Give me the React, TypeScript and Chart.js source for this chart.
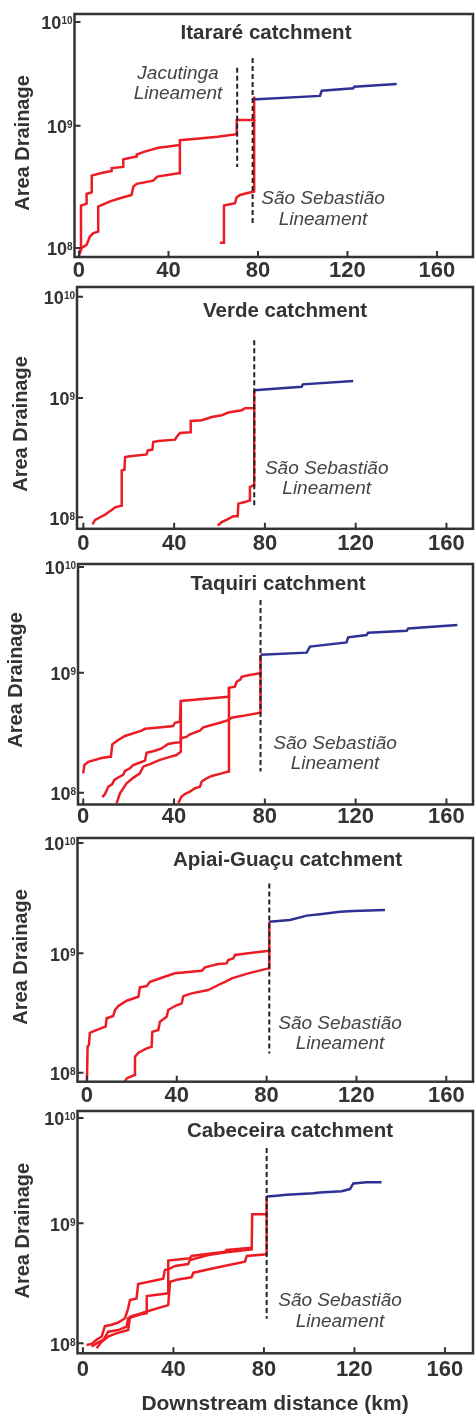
import React, { useEffect, useRef } from "react";
import { Chart, registerables } from "chart.js";

Chart.register(...registerables);

const FONT = "'Liberation Sans', Arial, Helvetica, sans-serif";
const RED = "#ec1c24";
const BLUE = "#2e3192";
const INK = "#333333";
const NOTE_INK = "#444444";
const DASH = "#222222";

// ---- shared axis ticks ----
const xTickValues = [0, 40, 80, 120, 160];
const yTickExponents = [8, 9, 10];

// ---- Itararé catchment ----
const itarareUpperKm = [0, 0.9, 0.9, 3.4, 3.4, 5.7, 5.7, 10.0, 14.6, 14.6, 19.8, 19.8, 25.8, 25.8, 29.0, 31.7, 35.5, 40.0, 45.1, 45.1, 55.0, 62.0, 70.5, 70.5, 78.3, 78.3];
const itarareUpperArea = [9.0e7, 1.0e8, 2.22e8, 2.3e8, 2.76e8, 2.85e8, 3.9e8, 4.1e8, 4.25e8, 4.5e8, 4.6e8, 5.3e8, 5.6e8, 5.8e8, 6.1e8, 6.3e8, 6.6e8, 6.75e8, 6.95e8, 7.6e8, 7.9e8, 8.1e8, 8.5e8, 1.11e9, 1.11e9, 1.73e9];
const itarareLowerKm = [0, 1.2, 3.4, 4.9, 6.4, 8.6, 8.6, 13.9, 18.3, 23.5, 24.3, 25.8, 33.2, 35.0, 44.4, 45.1, 45.1];
const itarareLowerArea = [8.6e7, 1.0e8, 1.06e8, 1.24e8, 1.32e8, 1.36e8, 2.18e8, 2.4e8, 2.55e8, 2.71e8, 3.17e8, 3.34e8, 3.55e8, 3.83e8, 4.08e8, 4.08e8, 6.95e8];
const itarareEastKm = [63.0, 64.8, 64.8, 69.7, 70.5, 72.0, 74.9, 78.3, 78.3];
const itarareEastArea = [1.1e8, 1.1e8, 2.22e8, 2.32e8, 2.6e8, 2.71e8, 2.8e8, 2.89e8, 1.11e9];
const itarareTrunkKm = [78.3, 79.4, 107.7, 108.5, 122.6, 123.0, 142.0];
const itarareTrunkArea = [1.64e9, 1.64e9, 1.75e9, 1.93e9, 2.02e9, 2.08e9, 2.19e9];
const itarareLineamentKm = [70.7, 77.6];
const itarareLineamentTop = [2.97e9, 3.58e9];
const itarareLineamentBottom = [4.59e8, 1.6e8];
const itarareYTicks = [1e8, 1e9, 7.05e9];

// ---- Verde catchment ----
const verdeMainKm = [4.0, 5.2, 7.4, 9.6, 11.0, 12.5, 14.0, 16.6, 16.9, 18.1, 18.4, 20.6, 27.9, 28.4, 30.4, 30.8, 33.0, 40.4, 41.1, 42.6, 47.0, 47.3, 52.2, 56.6, 61.0, 63.9, 69.8, 71.2, 74.9, 75.3, 75.3];
const verdeMainArea = [8.7e7, 9.5e7, 1.0e8, 1.05e8, 1.10e8, 1.15e8, 1.21e8, 1.25e8, 2.47e8, 2.5e8, 3.19e8, 3.24e8, 3.36e8, 3.63e8, 3.68e8, 4.27e8, 4.35e8, 4.47e8, 4.7e8, 5.08e8, 5.15e8, 6.41e8, 6.5e8, 6.92e8, 7.16e8, 7.54e8, 7.89e8, 8.19e8, 8.24e8, 8.24e8, 1.16e9];
const verdeEastKm = [59.2, 61.0, 63.9, 66.1, 68.0, 68.3, 71.2, 73.1, 73.4, 74.9, 75.3, 75.3];
const verdeEastArea = [8.5e7, 9.1e7, 9.7e7, 1.02e8, 1.02e8, 1.30e8, 1.34e8, 1.38e8, 1.79e8, 1.85e8, 1.85e8, 8.24e8];
const verdeTrunkKm = [75.3, 96.2, 96.7, 118.9];
const verdeTrunkArea = [1.16e9, 1.24e9, 1.30e9, 1.39e9];
const verdeLineamentKm = [75.3];
const verdeLineamentTop = [3.05e9];
const verdeLineamentBottom = [1.25e8];
const verdeYTicks = [1e8, 1e9, 7.06e9];

// ---- Taquiri catchment ----
const taquiriUpperKm = [0, 0.5, 2.2, 8.1, 12.2, 12.8, 15.4, 18.4, 25.7, 27.2, 34.5, 39.6, 40.4, 42.6, 43.0, 63.9, 64.2, 66.8, 67.6, 69.3, 69.8, 72.7, 77.8, 78.1, 78.1];
const taquiriUpperArea = [1.45e8, 1.7e8, 1.81e8, 1.95e8, 2.0e8, 2.53e8, 2.75e8, 2.97e8, 3.29e8, 3.41e8, 3.51e8, 3.59e8, 3.83e8, 3.91e8, 5.81e8, 6.31e8, 7.5e8, 7.65e8, 8.41e8, 8.81e8, 9.26e8, 9.51e8, 9.89e8, 9.89e8, 1.41e9];
const taquiriMidKm = [8.4, 9.6, 11.0, 12.8, 13.7, 15.4, 17.6, 18.4, 20.6, 22.0, 24.2, 27.2, 27.9, 31.6, 34.5, 37.4, 40.4, 43.0, 43.0, 45.6, 47.0, 51.4, 52.9, 56.6, 60.2, 63.9, 65.4, 69.8, 77.8, 78.1, 78.1];
const taquiriMidArea = [9.2e7, 9.75e7, 1.12e8, 1.18e8, 1.28e8, 1.34e8, 1.41e8, 1.52e8, 1.60e8, 1.70e8, 1.76e8, 1.85e8, 2.15e8, 2.24e8, 2.34e8, 2.55e8, 2.61e8, 2.64e8, 2.84e8, 2.93e8, 3.07e8, 3.29e8, 3.51e8, 3.67e8, 3.83e8, 4.03e8, 4.22e8, 4.35e8, 4.64e8, 4.64e8, 9.89e8];
const taquiriLowKm = [14.7, 16.2, 19.1, 22.0, 25.0, 26.4, 29.4, 33.8, 38.2, 41.1, 43.0, 43.0];
const taquiriLowArea = [8.2e7, 9.9e7, 1.2e8, 1.33e8, 1.45e8, 1.65e8, 1.73e8, 1.88e8, 1.99e8, 2.06e8, 2.2e8, 5.81e8];
const taquiriEastKm = [41.9, 43.3, 44.8, 47.0, 49.2, 51.4, 52.2, 54.4, 56.6, 61.0, 63.9, 64.2, 64.2];
const taquiriEastArea = [8.2e7, 9.3e7, 9.75e7, 1.02e8, 1.09e8, 1.12e8, 1.24e8, 1.32e8, 1.38e8, 1.45e8, 1.5e8, 1.5e8, 7.5e8];
const taquiriTrunkKm = [78.1, 98.4, 99.9, 116.0, 116.7, 124.8, 125.5, 142.5, 143.2, 164.8];
const taquiriTrunkArea = [1.41e9, 1.47e9, 1.65e9, 1.79e9, 1.97e9, 2.06e9, 2.15e9, 2.24e9, 2.34e9, 2.5e9];
const taquiriLineamentKm = [78.1];
const taquiriLineamentTop = [4.04e9];
const taquiriLineamentBottom = [1.5e8];
const taquiriYTicks = [1e8, 1e9, 7.6e9];

// ---- Apiai-Guaçu catchment ----
const apiaiUpperKm = [0, 0.3, 0.9, 1.3, 3.6, 6.5, 8.3, 8.8, 11.7, 12.5, 14.0, 17.7, 22.9, 23.6, 26.6, 28.1, 33.3, 39.2, 51.1, 52.6, 58.5, 62.2, 62.9, 65.2, 65.9, 71.8, 81.1, 81.2];
const apiaiUpperArea = [8.4e7, 1.65e8, 1.71e8, 2.16e8, 2.25e8, 2.36e8, 2.43e8, 2.86e8, 2.99e8, 3.35e8, 3.62e8, 4.01e8, 4.33e8, 5.19e8, 5.32e8, 5.78e8, 6.25e8, 6.8e8, 7.15e8, 7.64e8, 8.13e8, 8.24e8, 8.79e8, 9.08e8, 9.68e8, 1.0e9, 1.05e9, 1.84e9];
const apiaiLowerKm = [16.9, 17.7, 21.1, 21.4, 22.9, 26.6, 28.8, 29.1, 31.8, 32.5, 35.5, 36.2, 39.2, 42.2, 42.9, 46.6, 54.0, 58.5, 61.5, 64.5, 71.8, 80.8, 81.2, 81.2];
const apiaiLowerArea = [8.4e7, 8.97e7, 9.57e7, 1.36e8, 1.47e8, 1.60e8, 1.65e8, 2.2e8, 2.28e8, 2.68e8, 2.94e8, 3.35e8, 3.62e8, 3.81e8, 4.38e8, 4.62e8, 4.93e8, 5.43e8, 5.78e8, 6.18e8, 6.8e8, 7.48e8, 7.48e8, 1.05e9];
const apiaiTrunkKm = [81.2, 90.4, 97.9, 103.8, 112.7, 118.6, 132.7];
const apiaiTrunkArea = [1.84e9, 1.90e9, 2.07e9, 2.13e9, 2.23e9, 2.26e9, 2.31e9];
const apiaiLineamentKm = [81.2];
const apiaiLineamentTop = [3.85e9];
const apiaiLineamentBottom = [1.45e8];
const apiaiYTicks = [1e8, 1e9, 8.41e9];

// ---- Cabeceira catchment ----
const cabeceiraAKm = [1.6, 3.8, 6.0, 8.3, 9.7, 12.7, 15.6, 18.6, 20.0, 20.8, 23.7, 24.4, 35.5, 36.2, 38.0, 40.7, 46.5, 47.3, 55.4, 63.5, 74.6, 74.8, 81.2, 81.2];
const cabeceiraAArea = [9.7e7, 9.9e7, 1.07e8, 1.14e8, 1.39e8, 1.43e8, 1.49e8, 1.62e8, 1.96e8, 2.30e8, 2.37e8, 3.12e8, 3.46e8, 4.08e8, 4.16e8, 4.41e8, 4.58e8, 4.95e8, 5.45e8, 5.73e8, 6.07e8, 1.19e9, 1.19e9, 1.67e9];
const cabeceiraBKm = [3.8, 6.0, 9.0, 11.2, 15.6, 19.3, 20.0, 25.9, 28.2, 28.2, 37.7, 37.7, 47.3, 48.0, 62.8, 63.5, 74.6];
const cabeceiraBArea = [9.4e7, 1.0e8, 1.07e8, 1.25e8, 1.29e8, 1.38e8, 1.62e8, 1.75e8, 1.78e8, 2.48e8, 2.61e8, 4.89e8, 5.11e8, 5.34e8, 5.81e8, 6.0e8, 6.27e8];
const cabeceiraCKm = [6.0, 8.3, 11.2, 14.1, 20.0, 20.8, 25.9, 28.2, 37.7, 38.5, 42.1, 48.0, 48.8, 59.8, 71.6, 72.4, 81.2, 81.2];
const cabeceiraCArea = [9.1e7, 1.03e8, 1.14e8, 1.20e8, 1.29e8, 1.67e8, 1.78e8, 1.84e8, 2.08e8, 3.26e8, 3.41e8, 3.55e8, 3.88e8, 4.30e8, 4.79e8, 5.34e8, 5.52e8, 1.19e9];
const cabeceiraTrunkKm = [81.2, 85.6, 90.0, 101.8, 104.8, 114.3, 118.0, 119.5, 125.4, 132.0];
const cabeceiraTrunkArea = [1.67e9, 1.70e9, 1.73e9, 1.78e9, 1.81e9, 1.85e9, 1.93e9, 2.15e9, 2.20e9, 2.20e9];
const cabeceiraLineamentKm = [81.2];
const cabeceiraLineamentTop = [4.24e9];
const cabeceiraLineamentBottom = [1.6e8];
const cabeceiraYTicks = [1e8, 1e9, 7.55e9];

// ---- text ----
const yAxisTitle = "Area Drainage";
const xAxisTitle = "Downstream distance (km)";
const ssLabel = ["São Sebastião", "Lineament"];
const jacLabel = ["Jacutinga", "Lineament"];

type Series = { km: number[]; area: number[] };
type Note = { lines: string[]; x: number; ys: number[] };
interface PanelSpec {
  title: string;
  red: Series[];
  trunk: Series;
  linKm: number[];
  linTop: number[];
  linBottom: number[];
  yTicks: number[];
  notes: Note[];
  xRange: [number, number];
  yRange: [number, number];
  top: number;
  height: number;
  areaTop: number;
  areaBottom: number;
  areaLeft: number;
  areaRight: number;
  titlePos: [number, number];
  yTitlePos: [number, number];
  tickPad: number;
  xTitlePos?: [number, number];
}

const panels: PanelSpec[] = [
  {
    title: "Itararé catchment",
    red: [
      { km: itarareUpperKm, area: itarareUpperArea },
      { km: itarareLowerKm, area: itarareLowerArea },
      { km: itarareEastKm, area: itarareEastArea },
    ],
    trunk: { km: itarareTrunkKm, area: itarareTrunkArea },
    linKm: itarareLineamentKm,
    linTop: itarareLineamentTop,
    linBottom: itarareLineamentBottom,
    yTicks: itarareYTicks,
    notes: [
      { lines: jacLabel, x: 178, ys: [72, 92] },
      { lines: ssLabel, x: 323, ys: [197, 218] },
    ],
    xRange: [-2.0, 176.1],
    yRange: [8.43e7, 8.18e9],
    top: 0,
    height: 280,
    areaTop: 14,
    areaBottom: 257,
    areaLeft: 74.5,
    areaRight: 473,
    titlePos: [266, 32],
    yTitlePos: [22, 143],
    tickPad: 1,
  },
  {
    title: "Verde catchment",
    red: [
      { km: verdeMainKm, area: verdeMainArea },
      { km: verdeEastKm, area: verdeEastArea },
    ],
    trunk: { km: verdeTrunkKm, area: verdeTrunkArea },
    linKm: verdeLineamentKm,
    linTop: verdeLineamentTop,
    linBottom: verdeLineamentBottom,
    yTicks: verdeYTicks,
    notes: [{ lines: ssLabel, x: 326.7, ys: [186.7, 206.7] }],
    xRange: [-2.8, 171.7],
    yRange: [8.0e7, 8.51e9],
    top: 280,
    height: 278,
    areaTop: 287,
    areaBottom: 528.8,
    areaLeft: 77,
    areaRight: 473,
    titlePos: [285, 30],
    yTitlePos: [20.3, 144],
    tickPad: 2,
  },
  {
    title: "Taquiri catchment",
    red: [
      { km: taquiriUpperKm, area: taquiriUpperArea },
      { km: taquiriMidKm, area: taquiriMidArea },
      { km: taquiriLowKm, area: taquiriLowArea },
      { km: taquiriEastKm, area: taquiriEastArea },
    ],
    trunk: { km: taquiriTrunkKm, area: taquiriTrunkArea },
    linKm: taquiriLineamentKm,
    linTop: taquiriLineamentTop,
    linBottom: taquiriLineamentBottom,
    yTicks: taquiriYTicks,
    notes: [{ lines: ssLabel, x: 335, ys: [183.7, 204.3] }],
    xRange: [-2.3, 171.7],
    yRange: [7.98e7, 8.05e9],
    top: 558,
    height: 276,
    areaTop: 564,
    areaBottom: 804.5,
    areaLeft: 78,
    areaRight: 473,
    titlePos: [278, 24.7],
    yTitlePos: [15.3, 122],
    tickPad: -1,
  },
  {
    title: "Apiai-Guaçu catchment",
    red: [
      { km: apiaiUpperKm, area: apiaiUpperArea },
      { km: apiaiLowerKm, area: apiaiLowerArea },
    ],
    trunk: { km: apiaiTrunkKm, area: apiaiTrunkArea },
    linKm: apiaiLineamentKm,
    linTop: apiaiLineamentTop,
    linBottom: apiaiLineamentBottom,
    yTicks: apiaiYTicks,
    notes: [{ lines: ssLabel, x: 340, ys: [187.7, 208.3] }],
    xRange: [-4.2, 171.9],
    yRange: [8.41e7, 9.25e9],
    top: 834,
    height: 274,
    areaTop: 838,
    areaBottom: 1081.7,
    areaLeft: 77.5,
    areaRight: 473,
    titlePos: [287.5, 24.3],
    yTitlePos: [20.3, 123],
    tickPad: 1,
  },
  {
    title: "Cabeceira catchment",
    red: [
      { km: cabeceiraAKm, area: cabeceiraAArea },
      { km: cabeceiraBKm, area: cabeceiraBArea },
      { km: cabeceiraCKm, area: cabeceiraCArea },
    ],
    trunk: { km: cabeceiraTrunkKm, area: cabeceiraTrunkArea },
    linKm: cabeceiraLineamentKm,
    linTop: cabeceiraLineamentTop,
    linBottom: cabeceiraLineamentBottom,
    yTicks: cabeceiraYTicks,
    notes: [{ lines: ssLabel, x: 340, ys: [191, 212] }],
    xRange: [-2.4, 172.4],
    yRange: [8.26e7, 8.63e9],
    top: 1108,
    height: 306,
    areaTop: 1111,
    areaBottom: 1353.3,
    areaLeft: 77.5,
    areaRight: 473,
    titlePos: [290, 21.7],
    yTitlePos: [22, 122.7],
    tickPad: 3,
    xTitlePos: [275, 294],
  },
];

const toPoints = (s: Series) => s.km.map((k, i) => ({ x: k, y: s.area[i] }));

function Panel({ spec }: { spec: PanelSpec }) {
  const ref = useRef<HTMLCanvasElement | null>(null);

  useEffect(() => {
    const canvas = ref.current;
    if (!canvas) return;

    const decor = {
      id: "panelDecor",
      afterDraw(chart: any) {
        const { ctx, chartArea: a } = chart;
        const xs = chart.scales.x;
        const ys = chart.scales.y;
        ctx.save();
        // frame
        ctx.strokeStyle = INK;
        ctx.lineWidth = 2.5;
        ctx.strokeRect(a.left, a.top, a.right - a.left, a.bottom - a.top);
        // inward tick marks
        ctx.lineWidth = 2;
        ctx.beginPath();
        for (const t of xs.ticks) {
          const px = xs.getPixelForValue(t.value);
          ctx.moveTo(px, a.bottom);
          ctx.lineTo(px, a.bottom - 6);
        }
        for (const v of spec.yTicks) {
          const py = ys.getPixelForValue(v);
          ctx.moveTo(a.left, py);
          ctx.lineTo(a.left + 6, py);
        }
        ctx.stroke();

        // y tick labels: 10 with superscript exponent
        ctx.fillStyle = INK;
        ctx.textBaseline = "alphabetic";
        ctx.textAlign = "right";
        spec.yTicks.forEach((v, i) => {
          const py = ys.getPixelForValue(v);
          const exp = String(yTickExponents[i]);
          const xr = a.left - 2;
          const base = py + 1 + 0.358 * 18;
          ctx.font = `bold 10px ${FONT}`;
          const we = ctx.measureText(exp).width;
          ctx.fillText(exp, xr, base - 5);
          ctx.font = `bold 18px ${FONT}`;
          ctx.fillText("10", xr - we, base);
        });

        // y axis title
        ctx.save();
        ctx.translate(spec.yTitlePos[0], spec.yTitlePos[1]);
        ctx.rotate(-Math.PI / 2);
        ctx.font = `bold 20px ${FONT}`;
        ctx.textAlign = "center";
        ctx.fillStyle = INK;
        ctx.fillText(yAxisTitle, 0, 0.358 * 20);
        ctx.restore();

        // panel title
        ctx.font = `bold 20.5px ${FONT}`;
        ctx.textAlign = "center";
        ctx.fillStyle = INK;
        ctx.fillText(spec.title, spec.titlePos[0], spec.titlePos[1] + 0.358 * 20.5);

        // lineament notes
        ctx.font = `italic 19px ${FONT}`;
        ctx.fillStyle = NOTE_INK;
        for (const n of spec.notes) {
          n.lines.forEach((line, i) => {
            ctx.fillText(line, n.x, n.ys[i] + 0.358 * 19);
          });
        }

        // x axis title
        if (spec.xTitlePos) {
          ctx.font = `bold 21px ${FONT}`;
          ctx.fillStyle = INK;
          ctx.fillText(xAxisTitle, spec.xTitlePos[0], spec.xTitlePos[1] + 0.358 * 21);
        }
        ctx.restore();
      },
    };

    const lineBase = {
      pointRadius: 0,
      pointHoverRadius: 0,
      fill: false,
      tension: 0,
      borderJoinStyle: "miter" as const,
      borderCapStyle: "butt" as const,
    };

    const datasets: any[] = [
      ...spec.linKm.map((k, i) => ({
        ...lineBase,
        data: [
          { x: k, y: spec.linTop[i] },
          { x: k, y: spec.linBottom[i] },
        ],
        borderColor: DASH,
        borderWidth: 2,
        borderDash: [5, 3],
        order: 0,
      })),
      { ...lineBase, data: toPoints(spec.trunk), borderColor: BLUE, borderWidth: 2.5, order: 1 },
      ...spec.red.map((s) => ({ ...lineBase, data: toPoints(s), borderColor: RED, borderWidth: 2.5, order: 2 })),
    ];

    const xScaleHeight = spec.height - (spec.areaBottom - spec.top);

    const chart = new Chart(canvas, {
      type: "line",
      data: { datasets },
      options: {
        responsive: false,
        maintainAspectRatio: false,
        animation: false,
        devicePixelRatio: 1,
        events: [],
        layout: {
          padding: { top: spec.areaTop - spec.top, right: 475 - spec.areaRight, left: 0, bottom: 0 },
        },
        plugins: {
          legend: { display: false },
          tooltip: { enabled: false },
          title: { display: false },
        },
        scales: {
          x: {
            type: "linear",
            min: spec.xRange[0],
            max: spec.xRange[1],
            grid: { display: false, drawTicks: false, tickLength: 0 },
            border: { display: false },
            ticks: {
              font: { family: FONT, size: 22, weight: "bold" },
              color: INK,
              padding: spec.tickPad,
              maxRotation: 0,
              autoSkip: false,
              includeBounds: false,
            },
            afterBuildTicks: (s: any) => {
              s.ticks = xTickValues.map((v) => ({ value: v }));
            },
            afterFit: (s: any) => {
              s.height = xScaleHeight;
            },
          },
          y: {
            type: "logarithmic",
            min: spec.yRange[0],
            max: spec.yRange[1],
            grid: { display: false, drawTicks: false, tickLength: 0 },
            border: { display: false },
            ticks: { display: false },
            afterFit: (s: any) => {
              s.width = spec.areaLeft;
            },
          },
        },
      } as any,
      plugins: [decor],
    });

    return () => chart.destroy();
  }, [spec]);

  return (
    <canvas
      ref={ref}
      width={475}
      height={spec.height}
      style={{ position: "absolute", left: 0, top: spec.top, width: 475, height: spec.height, display: "block" }}
    />
  );
}

export default function App() {
  return (
    <div style={{ position: "absolute", left: 0, top: 0, width: 475, height: 1414, background: "#ffffff" }}>
      {panels.map((p, i) => (
        <Panel key={i} spec={p} />
      ))}
    </div>
  );
}
